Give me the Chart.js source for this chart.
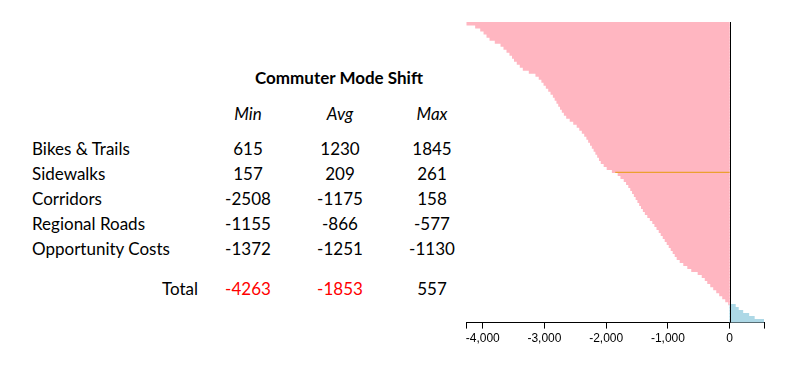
<!DOCTYPE html>
<html>
<head>
<meta charset="utf-8">
<script src="https://cdn.jsdelivr.net/npm/chart.js@4"></script>
<style>
  body { margin: 0; background: #fff; width: 811px; height: 378px; overflow: hidden; position: relative; font-family: Lato, "Open Sans", sans-serif; }
  #table div { position: absolute; font-size: 17px; color: #000; white-space: nowrap; line-height: 20px; }
  #chartBox { position: absolute; left: 460px; top: 12px; width: 320px; height: 345px; }
</style>
</head>
<body>
<div id="table"></div>
<div id="chartBox"><canvas id="chart"></canvas></div>
<script>
// table values
const title = "Commuter Mode Shift";
const columns = ["Min", "Avg", "Max"];
const rowLabels = ["Bikes & Trails", "Sidewalks", "Corridors", "Regional Roads", "Opportunity Costs"];
const minVals = [615, 157, -2508, -1155, -1372];
const avgVals = [1230, 209, -1175, -866, -1251];
const maxVals = [1845, 261, 158, -577, -1130];
const totals = [-4263, -1853, 557];

// sorted outcomes top to bottom
const outcomes = [
  -4263, -4113, -4031, -3977, -3929, -3880, -3795, -3702, -3654, -3605,
  -3557, -3516, -3484, -3439, -3390, -3341, -3244, -3136, -3083, -3040,
  -3005, -2968, -2929, -2892, -2854, -2825, -2796, -2767, -2738, -2709,
  -2676, -2638, -2581, -2524, -2468, -2426, -2385, -2346, -2311, -2282,
  -2252, -2223, -2194, -2165, -2136, -2107, -2078, -2031, -1982, -1898,
  -1804, -1759, -1706, -1668, -1632, -1600, -1571, -1542, -1513, -1484,
  -1455, -1426, -1396, -1364, -1324, -1283, -1243, -1209, -1175, -1139,
  -1107, -1074, -1042, -1010, -977, -945, -913, -880, -848, -799,
  -741, -676, -612, -508, -442, -393, -353, -304, -256, -207,
  -159, -110, -61, -13, 89, 138, 210, 307, 396, 557
];
const xTicks = [-4263, -4000, -3000, -2000, -1000, 0, 557];

/* colors */
const pink = "#ffb6c1";
const blue = "#add8e6";
const orange = "#eba030";

// build the table as text
const table = document.getElementById('table');
function addText(text, x, y, align, style) {
    const d = document.createElement('div');
    d.textContent = text;
    d.style.top = (y - 10) + 'px';
    if (align === 'center') { d.style.left = (x - 100) + 'px'; d.style.width = '200px'; d.style.textAlign = 'center'; }
    else if (align === 'right') { d.style.left = (x - 200) + 'px'; d.style.width = '200px'; d.style.textAlign = 'right'; }
    else d.style.left = x + 'px';
    Object.assign(d.style, style || {});
    table.appendChild(d);
}
const colX = [248, 340, 432];
const rowY = [149, 174, 199, 224, 249];
addText(title, 339, 78, 'center', { fontWeight: 'bold' });
columns.forEach((c, i) => addText(c, colX[i], 114, 'center', { fontStyle: 'italic' }));
rowLabels.forEach((r, j) => {
    addText(r, 32, rowY[j], 'left');
    addText(String(minVals[j]), colX[0], rowY[j], 'center');
    addText(String(avgVals[j]), colX[1], rowY[j], 'center');
    addText(String(maxVals[j]), colX[2], rowY[j], 'center');
});
addText("Total", 198, 289, 'right');
totals.forEach((t, i) => addText(String(t), colX[i], 289, 'center', { color: t < 0 ? '#ff0000' : '#000' }));

// zero line and average line on top of the bars
const overlay = {
    id: 'overlay',
    afterDatasetsDraw(chart) {
        const { ctx, chartArea, scales: { x, y } } = chart;
        const avg = totals[1];
        const idx = outcomes.findIndex(v => v > avg);
        const yp = y.getPixelForValue(idx - 0.5);
        ctx.save();
        ctx.strokeStyle = orange;
        ctx.lineWidth = 1.3;
        ctx.beginPath();
        ctx.moveTo(x.getPixelForValue(avg), yp);
        ctx.lineTo(x.getPixelForValue(0), yp);
        ctx.stroke();
        const x0 = Math.round(x.getPixelForValue(0)) + 0.5;
        ctx.strokeStyle = '#000';
        ctx.lineWidth = 1;
        ctx.beginPath();
        ctx.moveTo(x0, chartArea.top);
        ctx.lineTo(x0, chartArea.bottom);
        ctx.stroke();
        ctx.restore();
    }
};

const config = {
    type: 'bar',
    data: {
        labels: outcomes.map((v, i) => String(i + 1)),
        datasets: [{
            data: outcomes,
            backgroundColor: outcomes.map(v => v < 0 ? pink : blue),
            borderWidth: 0,
            inflateAmount: 0.6,   // small overlap hides seams between bars
            barPercentage: 1,
            categoryPercentage: 1
        }]
    },
    options: {
        indexAxis: 'y',
        responsive: true,
        maintainAspectRatio: false,
        animation: false,
        layout: { padding: { left: 6.5, right: 16, top: 10, bottom: 8 } },
        plugins: { legend: { display: false }, tooltip: { enabled: false } },
        scales: {
            y: { display: false },
            x: {
                min: xTicks[0],
                max: xTicks[xTicks.length - 1],
                afterBuildTicks: scale => { scale.ticks = xTicks.map(v => ({ value: v })); },
                ticks: {
                    autoSkip: false,
                    maxRotation: 0,
                    color: '#000',
                    padding: 3,
                    font: { family: 'Liberation Sans, Arial', size: 12 },
                    callback: v => (v === xTicks[0] || v === xTicks[xTicks.length - 1]) ? '' : v.toLocaleString('en-US')
                },
                grid: { drawOnChartArea: false, tickLength: 6, tickColor: '#000', tickWidth: 1 },
                border: { color: '#000', width: 1 }
            }
        }
    },
    plugins: [overlay]
};

new Chart(document.getElementById('chart'), config);
</script>
</body>
</html>
